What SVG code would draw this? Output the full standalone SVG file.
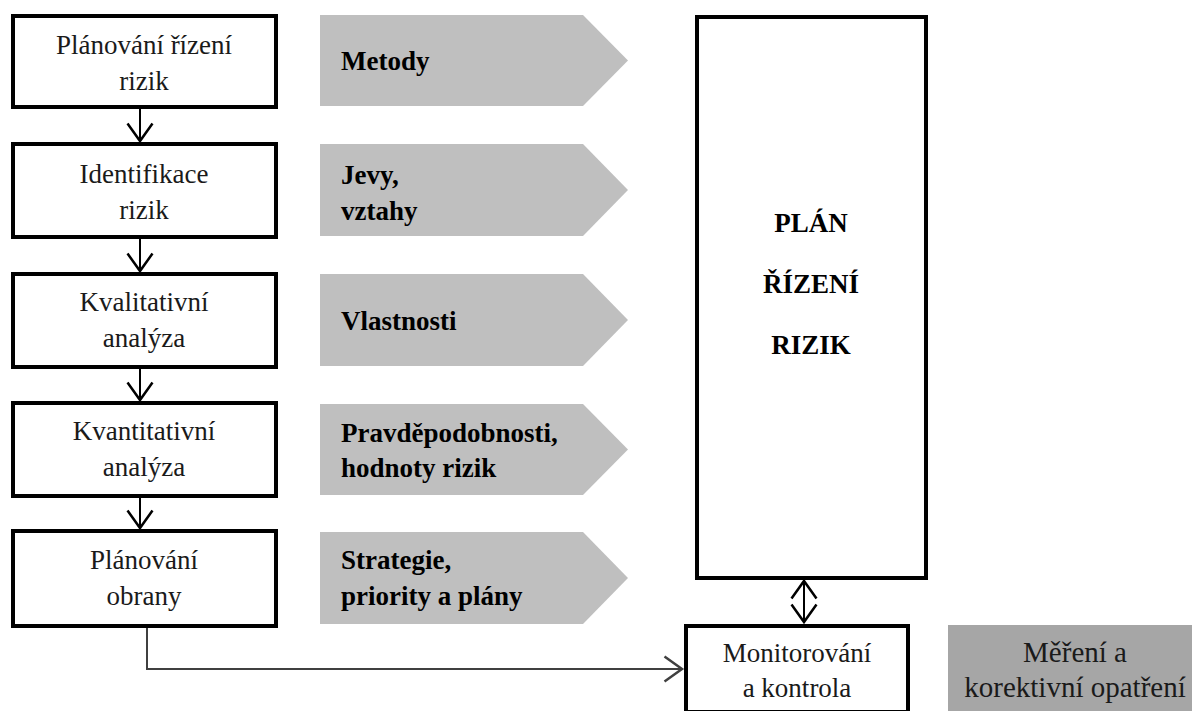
<svg xmlns="http://www.w3.org/2000/svg" width="1192" height="711" viewBox="0 0 1192 711">
<style>
.box{fill:#fff;stroke:#000;stroke-width:4}
.arr{fill:#bfbfbf}
.t{font-family:'Liberation Serif','DejaVu Serif',serif;font-size:27px;fill:#1a1a1a}
.b{font-family:'Liberation Serif','DejaVu Serif',serif;font-size:27px;font-weight:bold;fill:#000}
.c{text-anchor:middle}
.conn{fill:none;stroke:#000;stroke-width:2}
.conn2{fill:none;stroke:#404040;stroke-width:2}
</style>
<defs>
<marker id="v" markerUnits="userSpaceOnUse" markerWidth="30" markerHeight="30" viewBox="-16 -12 18 24" refX="0" refY="0" orient="auto-start-reverse">
<path d="M-14,-10 L0,0 L-14,10" fill="none" stroke="#000" stroke-width="2"/>
</marker>
<marker id="v2" markerUnits="userSpaceOnUse" markerWidth="30" markerHeight="30" viewBox="-16 -12 18 24" refX="0" refY="0" orient="auto">
<path d="M-14,-10 L0,0 L-14,10" fill="none" stroke="#404040" stroke-width="2"/>
</marker>
</defs>
<rect width="1192" height="711" fill="#fff"/>

<g id="connectors">
<line class="conn" x1="140" y1="108" x2="140" y2="141" marker-end="url(#v)"/>
<line class="conn" x1="140" y1="238" x2="140" y2="271" marker-end="url(#v)"/>
<line class="conn" x1="140" y1="368" x2="140" y2="400" marker-end="url(#v)"/>
<line class="conn" x1="140" y1="497" x2="140" y2="528" marker-end="url(#v)"/>
<line class="conn" x1="804" y1="581" x2="804" y2="622" marker-start="url(#v)" marker-end="url(#v)"/>
<polyline class="conn2" points="147,627 147,669 682,669" marker-end="url(#v2)"/>
</g>

<g id="n1"><rect class="box" x="13" y="16" width="263" height="91"/>
<text class="t c" x="144" y="54">Plánování řízení</text><text class="t c" x="144" y="90">rizik</text></g>
<g id="n2"><rect class="box" x="13" y="144" width="263" height="93"/>
<text class="t c" x="144" y="183">Identifikace</text><text class="t c" x="144" y="219">rizik</text></g>
<g id="n3"><rect class="box" x="13" y="274" width="263" height="93"/>
<text class="t c" x="144" y="311">Kvalitativní</text><text class="t c" x="144" y="347">analýza</text></g>
<g id="n4"><rect class="box" x="13" y="403" width="263" height="93"/>
<text class="t c" x="144" y="440">Kvantitativní</text><text class="t c" x="144" y="476">analýza</text></g>
<g id="n5"><rect class="box" x="13" y="531" width="263" height="95"/>
<text class="t c" x="144" y="569">Plánování</text><text class="t c" x="144" y="605">obrany</text></g>

<g id="a1"><polygon class="arr" points="320,15 583,15 628,60.5 583,106 320,106"/>
<text class="b" x="341" y="70">Metody</text></g>
<g id="a2"><polygon class="arr" points="320,144 583,144 628,190 583,236 320,236"/>
<text class="b" x="341" y="184">Jevy,</text><text class="b" x="341" y="220">vztahy</text></g>
<g id="a3"><polygon class="arr" points="320,274 583,274 628,320 583,366 320,366"/>
<text class="b" x="341" y="330">Vlastnosti</text></g>
<g id="a4"><polygon class="arr" points="320,404 583,404 628,449.5 583,495 320,495"/>
<text class="b" x="341" y="442">Pravděpodobnosti,</text><text class="b" x="341" y="477">hodnoty rizik</text></g>
<g id="a5"><polygon class="arr" points="320,532 583,532 628,578 583,624 320,624"/>
<text class="b" x="341" y="569">Strategie,</text><text class="b" x="341" y="605">priority a plány</text></g>

<g id="plan"><rect class="box" x="697" y="17" width="229" height="561"/>
<text class="b c" x="811" y="232">PLÁN</text>
<text class="b c" x="811" y="293">ŘÍZENÍ</text>
<text class="b c" x="811" y="354">RIZIK</text></g>

<g id="monitor"><rect class="box" x="686" y="626" width="222" height="86"/>
<text class="t c" x="797" y="662">Monitorování</text><text class="t c" x="797" y="697">a kontrola</text></g>

<g id="mereni"><rect x="948" y="625" width="250" height="90" fill="#a6a6a6"/>
<text class="t c" x="1075" y="662" style="font-size:29px">Měření a</text><text class="t c" x="1075" y="697" style="font-size:29px">korektivní opatření</text></g>
</svg>
